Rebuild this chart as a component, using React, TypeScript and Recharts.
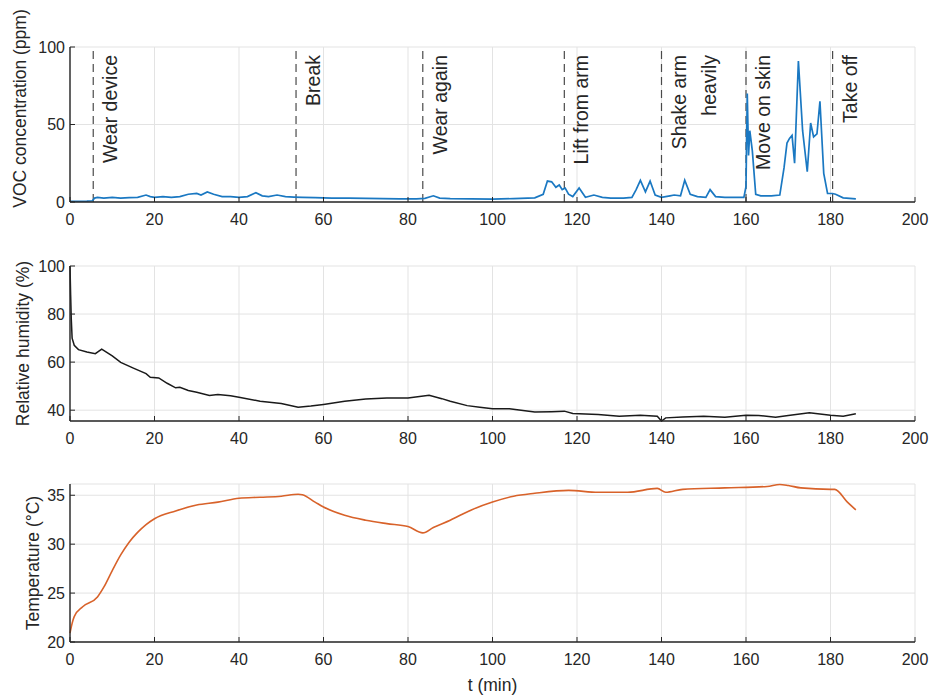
import React from 'react';
import { LineChart, Line, XAxis, YAxis, CartesianGrid, ReferenceLine } from 'recharts';

const FONT = '"Liberation Sans", Arial, Helvetica, sans-serif';
const INK = '#262626';
const GRID = '#e3e3e3';

const timeTicks = [0, 20, 40, 60, 80, 100, 120, 140, 160, 180, 200];
const vocTicks = [0, 50, 100];
const rhTicks = [40, 60, 80, 100];
const tempTicks = [20, 25, 30, 35];

// VOC concentration (ppm) vs time (min)
const vocMin = [
  0, 2, 4, 5.3, 5.8, 6.5, 8, 10, 12, 14,
  16, 18, 19, 20, 22, 24, 26, 28, 30, 31,
  32.5, 34, 36, 38, 40, 42, 44, 45.5, 47, 49,
  51, 53, 55, 58, 62, 66, 70, 74, 78, 82,
  84, 86, 87.5, 90, 95, 100, 105, 110, 112, 113,
  114, 115, 115.8, 116.5, 117.2, 118, 119, 120.5, 122, 124,
  126, 128, 131, 133, 134, 135, 136.2, 137.3, 138.5, 140,
  142, 143, 144.5, 145.5, 146.8, 148.5, 150.5, 151.5, 152.8, 155,
  159.5, 160, 160.3, 160.6, 160.9, 161.5, 162.3, 163.5, 166, 168,
  169, 169.7, 170.3, 170.9, 171.5, 172.4, 173.4, 174.5, 175.3, 176,
  176.8, 177.5, 178.4, 179.3, 180.5, 181.2, 183, 186,
];
const vocPpm = [
  0.5, 0.5, 0.6, 0.8, 2.5, 3, 2.5, 3, 2.5, 2.8,
  3, 4.5, 3.5, 3, 3.5, 3, 3.5, 5, 5.5, 4.5,
  6.5, 5, 3.5, 3.5, 3, 3.5, 6, 4, 3.5, 4.5,
  3.5, 3.2, 3, 2.8, 2.5, 2.5, 2.3, 2.2, 2, 2,
  2.3, 4, 2.5, 2.2, 2, 1.8, 2.2, 2.7, 5, 13.5,
  13, 9.5, 11, 8, 9, 5, 3.5, 9, 3, 4.5,
  3, 2.5, 2.5, 3, 8, 14, 6.5, 13.5, 4.5, 3,
  4, 4.5, 4, 14, 5, 3.5, 3, 8, 3.5, 3,
  3, 10, 70, 30, 46, 33, 5, 4, 4, 4.5,
  22, 38, 41, 43, 25, 91, 46, 19.5, 51, 42,
  44, 65, 18.5, 5.5, 5.5, 5, 2.7, 2,
];

// Relative humidity (%)
const rhMin = [
  0, 0.15, 0.3, 0.5, 1, 2, 4, 6, 7.5, 10,
  12, 15, 18, 19, 21, 23, 25, 26, 28, 30,
  33, 35, 38, 40, 45, 50, 54, 57, 60, 65,
  70, 75, 80, 85, 88, 90, 94, 97, 100, 104,
  110, 114, 117, 119, 125, 130, 135, 139, 140, 141,
  145, 150, 155, 160, 163, 167, 170, 175, 180, 183,
  186,
];
const rhPct = [
  100, 88, 78, 70, 67, 65.2, 64.2, 63.5, 65.4, 62.6,
  59.9, 57.5, 55.2, 53.7, 53.4, 51.2, 49.3, 49.5, 48.2, 47.5,
  46.1, 46.5, 46, 45.4, 43.7, 42.8, 41.2, 41.7, 42.4, 43.7,
  44.7, 45.1, 45.1, 46.2, 44.8, 43.7, 41.9, 41.2, 40.6, 40.6,
  39.2, 39.4, 39.6, 38.6, 38.2, 37.5, 37.9, 37.5, 35.5, 36.8,
  37.2, 37.5, 37.1, 37.9, 37.8, 37.1, 37.8, 38.9, 37.9, 37.5,
  38.5,
];

// Temperature (°C)
const tempMin = [
  0, 0.5, 1, 3, 6.5, 8, 10, 12, 14, 16,
  18, 20, 25, 30, 35, 40, 45, 50, 54, 55,
  58, 60, 65, 70, 75, 80, 83.5, 86, 90, 95,
  100, 105, 110, 118, 125, 132, 139, 141, 145, 155,
  165, 168, 170, 173, 180, 181, 184, 186,
];
const tempC = [
  20.9, 21.9, 22.6, 23.6, 24.6, 25.6, 27.3, 28.9, 30.2, 31.2,
  32.0, 32.6, 33.4, 34.0, 34.3, 34.7, 34.8, 34.9, 35.1, 35.05,
  34.3, 33.8, 32.95, 32.45, 32.1, 31.8, 31.15, 31.7, 32.45, 33.5,
  34.3, 34.9, 35.2, 35.5, 35.3, 35.3, 35.7, 35.3, 35.6, 35.75,
  35.9, 36.1, 36.0, 35.75, 35.6, 35.6, 34.3, 33.5,
];

const eventMin = [5.5, 53.5, 83.5, 117, 140, 160, 180.5];
const eventText = [
  ['Wear device'],
  ['Break'],
  ['Wear again'],
  ['Lift from arm'],
  ['Shake arm', 'heavily'],
  ['Move on skin'],
  ['Take off'],
];

const vocData = vocMin.map((t, i) => ({ t, v: vocPpm[i] }));
const rhData = rhMin.map((t, i) => ({ t, v: rhPct[i] }));
const tempData = tempMin.map((t, i) => ({ t, v: tempC[i] }));

const tickStyle = { fontSize: 16, fill: INK, fontFamily: FONT };
const axisLine = { stroke: INK, strokeWidth: 1.4 };

const eventLabel = (lines: string[]) => (props: any) => {
  const vb = props.viewBox;
  return (
    <g>
      {lines.map((s, i) => {
        const cx = vb.x + 17 + i * 30;
        const cy = vb.y + 8;
        return (
          <text key={i} x={cx} y={cy} transform={`rotate(-90 ${cx} ${cy})`} textAnchor="end"
            dominantBaseline="central" fontSize={19.5} fontFamily={FONT} fill={INK}>
            {s}
          </text>
        );
      })}
    </g>
  );
};

const yTitle = (text: string, x: number, dy: number) => (props: any) => {
  const vb = props.viewBox;
  const cy = vb.y + vb.height / 2 + dy;
  return (
    <text x={x} y={cy} transform={`rotate(-90 ${x} ${cy})`} textAnchor="middle" dominantBaseline="central"
      fontSize={17.5} fontFamily={FONT} fill={INK}>
      {text}
    </text>
  );
};

const xTitle = (props: any) => {
  const vb = props.viewBox;
  return (
    <text x={vb.x + vb.width / 2} y={vb.y + 43} textAnchor="middle" dominantBaseline="central"
      fontSize={17.5} fontFamily={FONT} fill={INK}>
      t (min)
    </text>
  );
};

function TimeAxis({ title }: { title?: boolean }) {
  return null;
}

export default function App() {
  const xProps = {
    type: 'number' as const,
    dataKey: 't',
    domain: [0, 200],
    ticks: timeTicks,
    interval: 0 as const,
    tickSize: -5,
    tickMargin: 17,
    axisLine,
    tickLine: { stroke: INK },
    tick: tickStyle,
    height: 30,
  };
  const yProps = {
    type: 'number' as const,
    width: 70,
    tickSize: -5,
    tickMargin: 10,
    interval: 0 as const,
    axisLine,
    tickLine: { stroke: INK },
    tick: tickStyle,
  };

  return (
    <div style={{ position: 'absolute', left: 0, top: 0, width: 933, height: 695, background: '#fff' }}>
      <div style={{ position: 'absolute', left: 0, top: 0 }}>
        <LineChart width={933} height={235} data={vocData} margin={{ top: 47, right: 18, bottom: 3, left: 0 }}>
          <CartesianGrid stroke={GRID} />
          <XAxis {...xProps} />
          <YAxis {...yProps} domain={[0, 100]} ticks={vocTicks} label={yTitle('VOC concentration (ppm)', 20, -16)} />
          {eventMin.map((t, i) => (
            <ReferenceLine key={t} x={t} stroke="#4a4a4a" strokeWidth={1.2} strokeDasharray="8 5"
              label={eventLabel(eventText[i])} />
          ))}
          <Line dataKey="v" type="linear" stroke="#1a78c2" strokeWidth={1.7} dot={false} activeDot={false}
            isAnimationActive={false} />
        </LineChart>
      </div>
      <div style={{ position: 'absolute', left: 0, top: 219 }}>
        <LineChart width={933} height={235} data={rhData} margin={{ top: 47, right: 18, bottom: 3, left: 0 }}>
          <CartesianGrid stroke={GRID} />
          <XAxis {...xProps} />
          <YAxis {...yProps} domain={[35.5, 100]} ticks={rhTicks} label={yTitle('Relative humidity (%)', 23, 0)} />
          <Line dataKey="v" type="linear" stroke="#1a1a1a" strokeWidth={1.5} dot={false} activeDot={false}
            isAnimationActive={false} />
        </LineChart>
      </div>
      <div style={{ position: 'absolute', left: 0, top: 437 }}>
        <LineChart width={933} height={258} data={tempData} margin={{ top: 47, right: 18, bottom: 23, left: 0 }}>
          <CartesianGrid stroke={GRID} />
          <XAxis {...xProps} label={xTitle} />
          <YAxis {...yProps} domain={[20, 36.15]} ticks={tempTicks} label={yTitle('Temperature (°C)', 33, 0)} />
          <Line dataKey="v" type="monotone" stroke="#d8622a" strokeWidth={1.6} dot={false} activeDot={false}
            isAnimationActive={false} />
        </LineChart>
      </div>
    </div>
  );
}
